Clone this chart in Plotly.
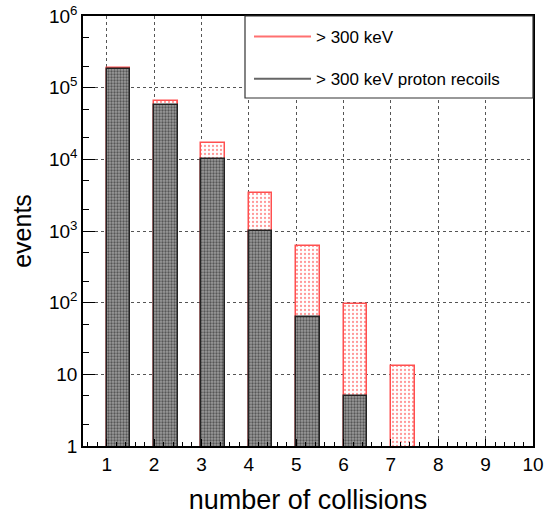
import plotly.graph_objects as go

collisions = [1, 2, 3, 4, 5, 6, 7]
events_all = [190000, 66000, 17000, 3400, 610, 95, 13]
events_proton = [180000, 58000, 10000, 1000, 63, 5, 0]
y_tickvals = [1, 10, 100, 1000, 10000, 100000, 1000000]
y_ticktext = ["1", "10", "10<sup>2</sup>", "10<sup>3</sup>", "10<sup>4</sup>", "10<sup>5</sup>", "10<sup>6</sup>"]
x_tickvals = [1, 2, 3, 4, 5, 6, 7, 8, 9, 10]

bin_w = 0.5
xc = [c + bin_w / 2 for c in collisions]
prot_x = [x for x, v in zip(xc, events_proton) if v > 0]
prot_y = [v for v in events_proton if v > 0]

fig = go.Figure()
fig.add_trace(go.Bar(
    x=xc, y=events_all, width=bin_w, showlegend=False,
    marker=dict(color="white", line=dict(color="#ff5050", width=1.5),
                pattern=dict(shape=".", fgcolor="#ff3030", bgcolor="white", size=4, solidity=0.25)),
))
fig.add_trace(go.Bar(
    x=prot_x, y=prot_y, width=bin_w, showlegend=False,
    marker=dict(color="#777777", line=dict(color="#222222", width=1.5),
                pattern=dict(shape=".", fgcolor="#111111", bgcolor="#9a9a9a", size=3, solidity=0.45)),
))
fig.add_trace(go.Scatter(x=[None], y=[None], mode="lines", name="&gt; 300 keV", legendgroup="a",
                         line=dict(color="#ff7070", width=2)))
fig.add_trace(go.Scatter(x=[None], y=[None], mode="lines", name="&gt; 300 keV proton recoils",
                         legendgroup="b", line=dict(color="#666666", width=2)))

font = "Liberation Sans, Arial, sans-serif"
fig.update_layout(
    width=544, height=515,
    margin=dict(l=83, r=11, t=16, b=69),
    paper_bgcolor="white", plot_bgcolor="white",
    barmode="overlay", bargap=0,
    font=dict(family=font, color="black"),
    shapes=[dict(type="rect", xref="paper", yref="paper", x0=(245 - 83) / 450, x1=1.0,
                 y0=1 - (98 - 16) / 430, y1=1.0, line=dict(color="#333333", width=1.2),
                 fillcolor="white", layer="above")],
    legend=dict(x=(249 - 83) / 450, y=1 - (19 - 16) / 430, xanchor="left", yanchor="top",
                borderwidth=0, bgcolor="rgba(0,0,0,0)",
                font=dict(size=17, family=font), tracegroupgap=17,
                itemwidth=57),
    xaxis=dict(range=[0.5, 10], tickmode="array", tickvals=x_tickvals, automargin=False,
               showgrid=True, gridcolor="#555555", griddash="dot", gridwidth=1,
               showline=True, linecolor="black", linewidth=1.5, mirror=True,
               ticks="inside", ticklen=7, tickcolor="black",
               minor=dict(ticks="inside", ticklen=4, dtick=0.2, tickcolor="black", showgrid=False),
               tickfont=dict(size=19), zeroline=False,
               title=dict(text="number of collisions", font=dict(size=27), standoff=18)),
    yaxis=dict(type="log", range=[0, 6], tickmode="array", tickvals=y_tickvals, ticktext=y_ticktext,
               automargin=False,
               showgrid=True, gridcolor="#555555", griddash="dot", gridwidth=1,
               showline=True, linecolor="black", linewidth=1.5, mirror=True,
               ticks="inside", ticklen=12, tickcolor="black",
               minor=dict(ticks="inside", ticklen=6, tickcolor="black", showgrid=False),
               tickfont=dict(size=19), zeroline=False,
               title=dict(text="events", font=dict(size=25), standoff=10)),
)
fig.write_html("out.html")
